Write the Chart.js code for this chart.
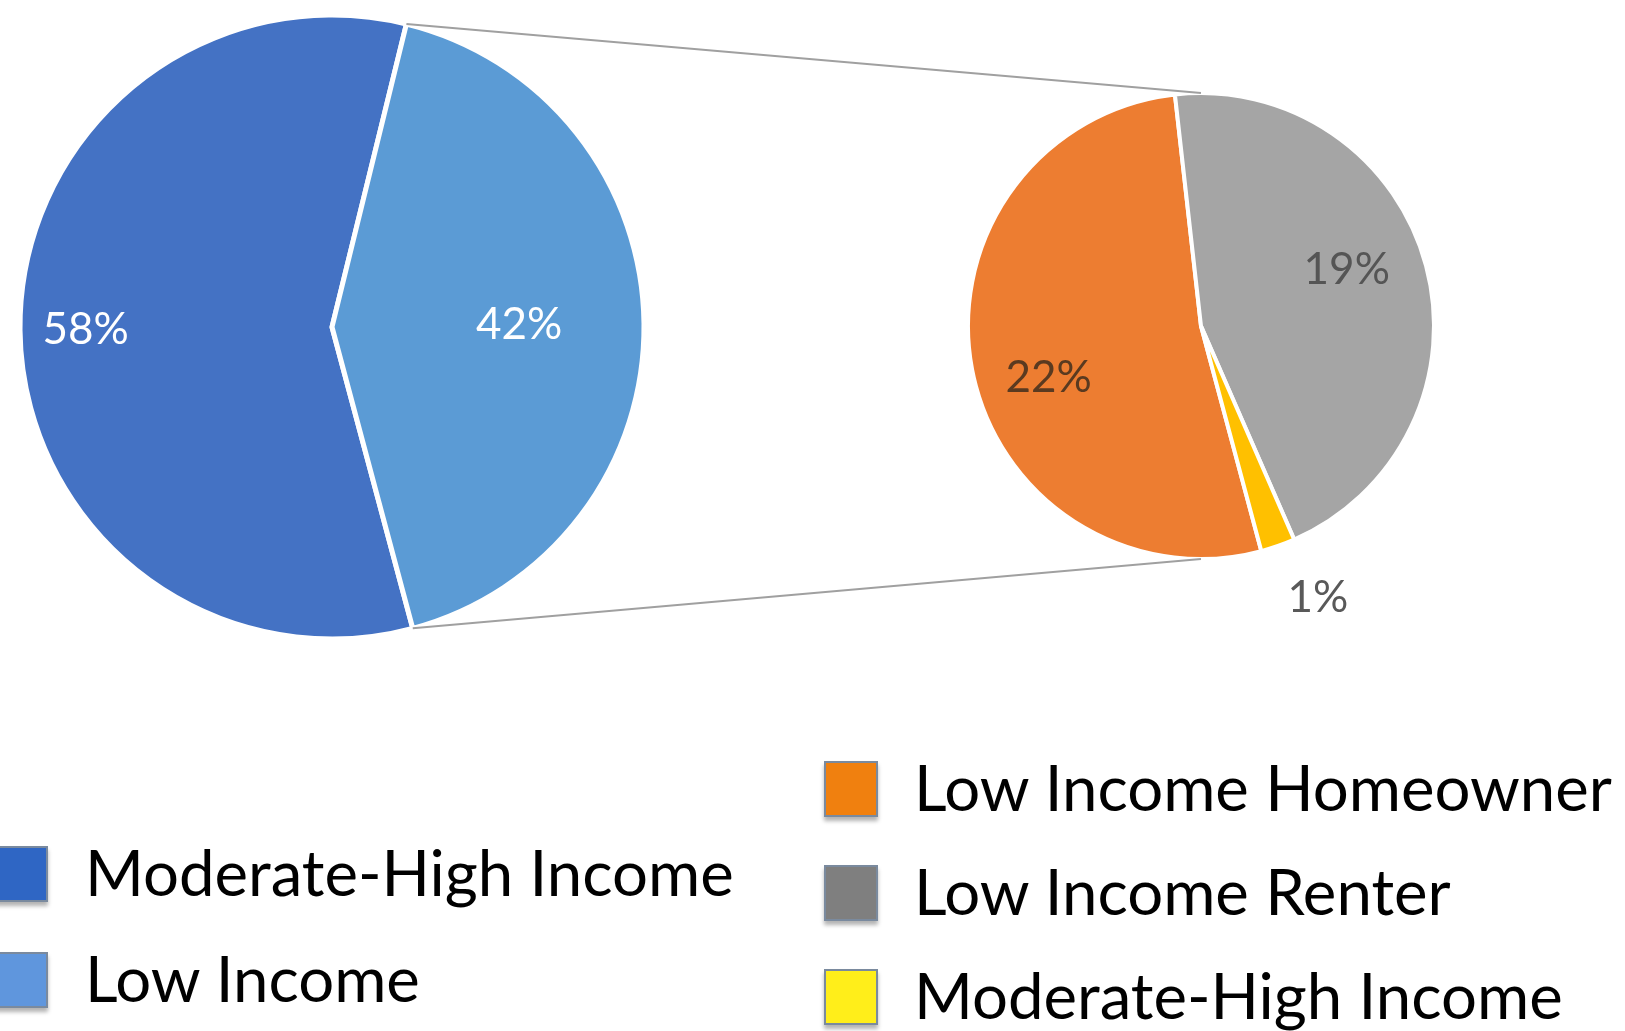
<!DOCTYPE html>
<html lang="en">
<head>
    <meta charset="UTF-8">
    <title>Income Breakdown - Pie of Pie</title>
    <script src="https://cdn.jsdelivr.net/npm/chart.js"></script>
    <style>
        body {
            margin: 0;
            background-color: white;
            font-family: Lato, sans-serif;
        }

        .stage {
            position: relative;
            width: 1625px;
            height: 1031px;
            overflow: hidden;
        }

        .stage canvas {
            position: absolute;
        }

        #mainPie {
            left: 0px;
            top: 0px;
        }

        #subPie {
            left: 901px;
            top: 26px;
        }

        #linkLines {
            left: 0px;
            top: 0px;
            pointer-events: none;
        }

        .legend {
            position: absolute;
        }

        .legend-item {
            position: absolute;
            left: 0;
            height: 56px;
            white-space: nowrap;
        }

        .legend-item .box {
            position: absolute;
            left: 0;
            top: 0;
            width: 50px;
            height: 52px;
            border: 2px solid #7a8a9e;
            box-shadow: 0 4px 4px rgba(0, 0, 0, 0.3);
        }

        .legend-item .text {
            position: absolute;
            top: -19px;
            font-size: 63.5px;
            line-height: 90px;
            color: #000;
        }
    </style>
</head>
<body>
    <div class="stage">
        <canvas id="mainPie" width="664" height="654"></canvas>
        <canvas id="subPie" width="600" height="600"></canvas>
        <canvas id="linkLines" width="1625" height="1031"></canvas>
        <div class="legend" id="mainLegend" style="left: -6px; top: 846px;"></div>
        <div class="legend" id="subLegend" style="left: 824px; top: 761px;"></div>
    </div>

    <script>
        // main pie
        const mainLabels = ['Moderate-High Income', 'Low Income'];
        const mainValues = [58, 42];
        const mainColors = ['#4472C4', '#5B9BD5'];
        const mainLegendColors = ['#2F66C4', '#5F96DD'];

        // secondary pie (split of the Low Income slice)
        const subLabels = ['Low Income Homeowner', 'Low Income Renter', 'Moderate-High Income'];
        const subValues = [22, 19, 1];
        const subColors = ['#ED7D31', '#A5A5A5', '#FFC000'];
        const subLegendColors = ['#F0800F', '#7F7F7F', '#FFEE1A'];

        // draws "NN%" labels near the middle angle of every slice
        const percentLabels = {
            id: 'percentLabels',
            afterDatasetsDraw(chart, args, opts) {
                const ctx = chart.ctx;
                const meta = chart.getDatasetMeta(0);
                const values = chart.data.datasets[0].data;
                ctx.save();
                ctx.font = opts.font;
                ctx.textAlign = 'center';
                ctx.textBaseline = 'middle';
                meta.data.forEach(function (arc, i) {
                    const mid = (arc.startAngle + arc.endAngle) / 2 + (opts.shift[i] * Math.PI / 180);
                    const r = arc.outerRadius * opts.distance[i];
                    ctx.fillStyle = opts.colors[i];
                    ctx.fillText(values[i] + '%', arc.x + Math.cos(mid) * r, arc.y + Math.sin(mid) * r);
                });
                ctx.restore();
            }
        };

        function pieOptions(radius, rotation, labelOpts) {
            return {
                responsive: false,
                animation: false,
                radius: radius,
                rotation: rotation,
                events: [],
                plugins: {
                    legend: { display: false },
                    tooltip: { enabled: false },
                    percentLabels: labelOpts
                }
            };
        }

        const mainChart = new Chart(document.getElementById('mainPie'), {
            type: 'pie',
            data: {
                labels: mainLabels,
                datasets: [{
                    data: mainValues,
                    backgroundColor: mainColors,
                    borderColor: '#ffffff',
                    borderWidth: 5
                }]
            },
            options: pieOptions(312, 165, {
                font: '44px Lato, sans-serif',
                distance: [0.79, 0.6],
                shift: [0, 0],
                colors: ['#ffffff', '#ffffff']
            }),
            plugins: [percentLabels]
        });

        const subChart = new Chart(document.getElementById('subPie'), {
            type: 'pie',
            data: {
                labels: subLabels,
                datasets: [{
                    data: subValues,
                    backgroundColor: subColors,
                    borderColor: '#ffffff',
                    borderWidth: 4
                }]
            },
            options: pieOptions(233, 165, {
                font: '44px Lato, sans-serif',
                distance: [0.69, 0.67, 1.27],
                shift: [-8, -6, -4],
                colors: ['#5a3a20', '#555555', '#595959']
            }),
            plugins: [percentLabels]
        });

        // series lines from the split slice to the top and bottom of the secondary pie
        function drawLinkLines() {
            const ctx = document.getElementById('linkLines').getContext('2d');
            const mainBox = document.getElementById('mainPie');
            const subBox = document.getElementById('subPie');
            const arc = mainChart.getDatasetMeta(0).data[1];
            const sub = subChart.getDatasetMeta(0).data[0];

            const mx = mainBox.offsetLeft + arc.x;
            const my = mainBox.offsetTop + arc.y;
            const mr = arc.outerRadius;
            const sx = subBox.offsetLeft + sub.x;
            const sy = subBox.offsetTop + sub.y;
            const sr = sub.outerRadius;

            ctx.strokeStyle = '#a0a0a0';
            ctx.lineWidth = 2;
            ctx.beginPath();
            ctx.moveTo(mx + Math.cos(arc.startAngle) * mr, my + Math.sin(arc.startAngle) * mr);
            ctx.lineTo(sx, sy - sr);
            ctx.moveTo(mx + Math.cos(arc.endAngle) * mr, my + Math.sin(arc.endAngle) * mr);
            ctx.lineTo(sx, sy + sr);
            ctx.stroke();
        }
        drawLinkLines();

        function buildLegend(id, labels, colors, gap, textLeft) {
            const holder = document.getElementById(id);
            labels.forEach(function (label, i) {
                const item = document.createElement('div');
                item.className = 'legend-item';
                item.style.top = (i * gap) + 'px';
                const box = document.createElement('div');
                box.className = 'box';
                box.style.backgroundColor = colors[i];
                const text = document.createElement('div');
                text.className = 'text';
                text.style.left = textLeft + 'px';
                text.textContent = label;
                item.appendChild(box);
                item.appendChild(text);
                holder.appendChild(item);
            });
        }
        buildLegend('mainLegend', mainLabels, mainLegendColors, 106, 91);
        buildLegend('subLegend', subLabels, subLegendColors, 104, 90);
    </script>
</body>
</html>
